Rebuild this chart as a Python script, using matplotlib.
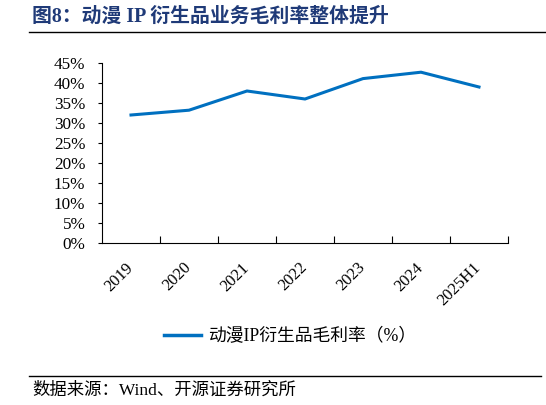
import matplotlib
matplotlib.use("Agg")
import matplotlib.pyplot as plt
import matplotlib.transforms as mtransforms
from matplotlib.lines import Line2D

plt.rcParams['font.family'] = ['Liberation Serif', 'Noto Sans CJK SC']

# données
annees = ["2019", "2020", "2021", "2022", "2023", "2024", "2025H1"]
marge = [32.0, 33.2, 38.0, 36.0, 41.1, 42.7, 39.0]
yticks = [0, 5, 10, 15, 20, 25, 30, 35, 40, 45]

fig = plt.figure(figsize=(5.46, 4.05), dpi=100)
ax = fig.add_axes([102 / 546, 1 - 243 / 405, 406 / 546, 180 / 405])

x = range(len(annees))
ax.plot(x, marge, color="#0070C0", lw=2.2, solid_joinstyle="miter")

ax.set_xlim(-0.5, len(annees) - 0.5)
ax.set_ylim(0, 45)
ax.set_yticks(yticks)
ax.set_yticklabels([f"{v}%" for v in yticks], fontsize=12.3)
ax.tick_params(axis="y", direction="out", length=3, width=0.8, pad=9)

# ticks x aux limites des catégories, étiquettes au centre
ax.set_xticks([i + 0.5 for i in range(len(annees))])
ax.set_xticklabels([])
ax.tick_params(axis="x", direction="in", length=5, width=0.8)
ax.set_xticks(list(x), minor=True)
ax.set_xticklabels(annees, minor=True, rotation=45, ha="right",
                   rotation_mode="anchor", fontsize=12)
ax.tick_params(axis="x", which="minor", length=0, pad=12)
decal = mtransforms.ScaledTranslation(-6 / 100, 0, fig.dpi_scale_trans)
for lab in ax.get_xticklabels(minor=True):
    lab.set_transform(lab.get_transform() + decal)

for s in ["top", "right"]:
    ax.spines[s].set_visible(False)
for s in ["left", "bottom"]:
    ax.spines[s].set_linewidth(0.8)

# légende
h = Line2D([], [], color="#0070C0", lw=2.5)
fig.legend([h], ["动漫IP衍生品毛利率（%）"], loc="center left",
           bbox_to_anchor=(148 / 546, 1 - 337 / 405), frameon=False,
           fontsize=12.8, handlelength=2.1, handletextpad=0.4)

# titre et source
fig.text(32 / 546, 1 - 17 / 405, "图8：动漫 IP 衍生品业务毛利率整体提升",
         fontsize=14.3, fontweight="bold", color="#1F3A78", va="center")
fig.add_artist(Line2D([29 / 546, 1], [1 - 31.5 / 405] * 2, color="black", lw=1))
fig.add_artist(Line2D([29 / 546, 0.99], [1 - 375.5 / 405] * 2, color="black", lw=1))
fig.text(32 / 546, 1 - 391 / 405, "数据来源：Wind、开源证券研究所",
         fontsize=12.5, va="center")

plt.savefig("out.png", dpi=100)
